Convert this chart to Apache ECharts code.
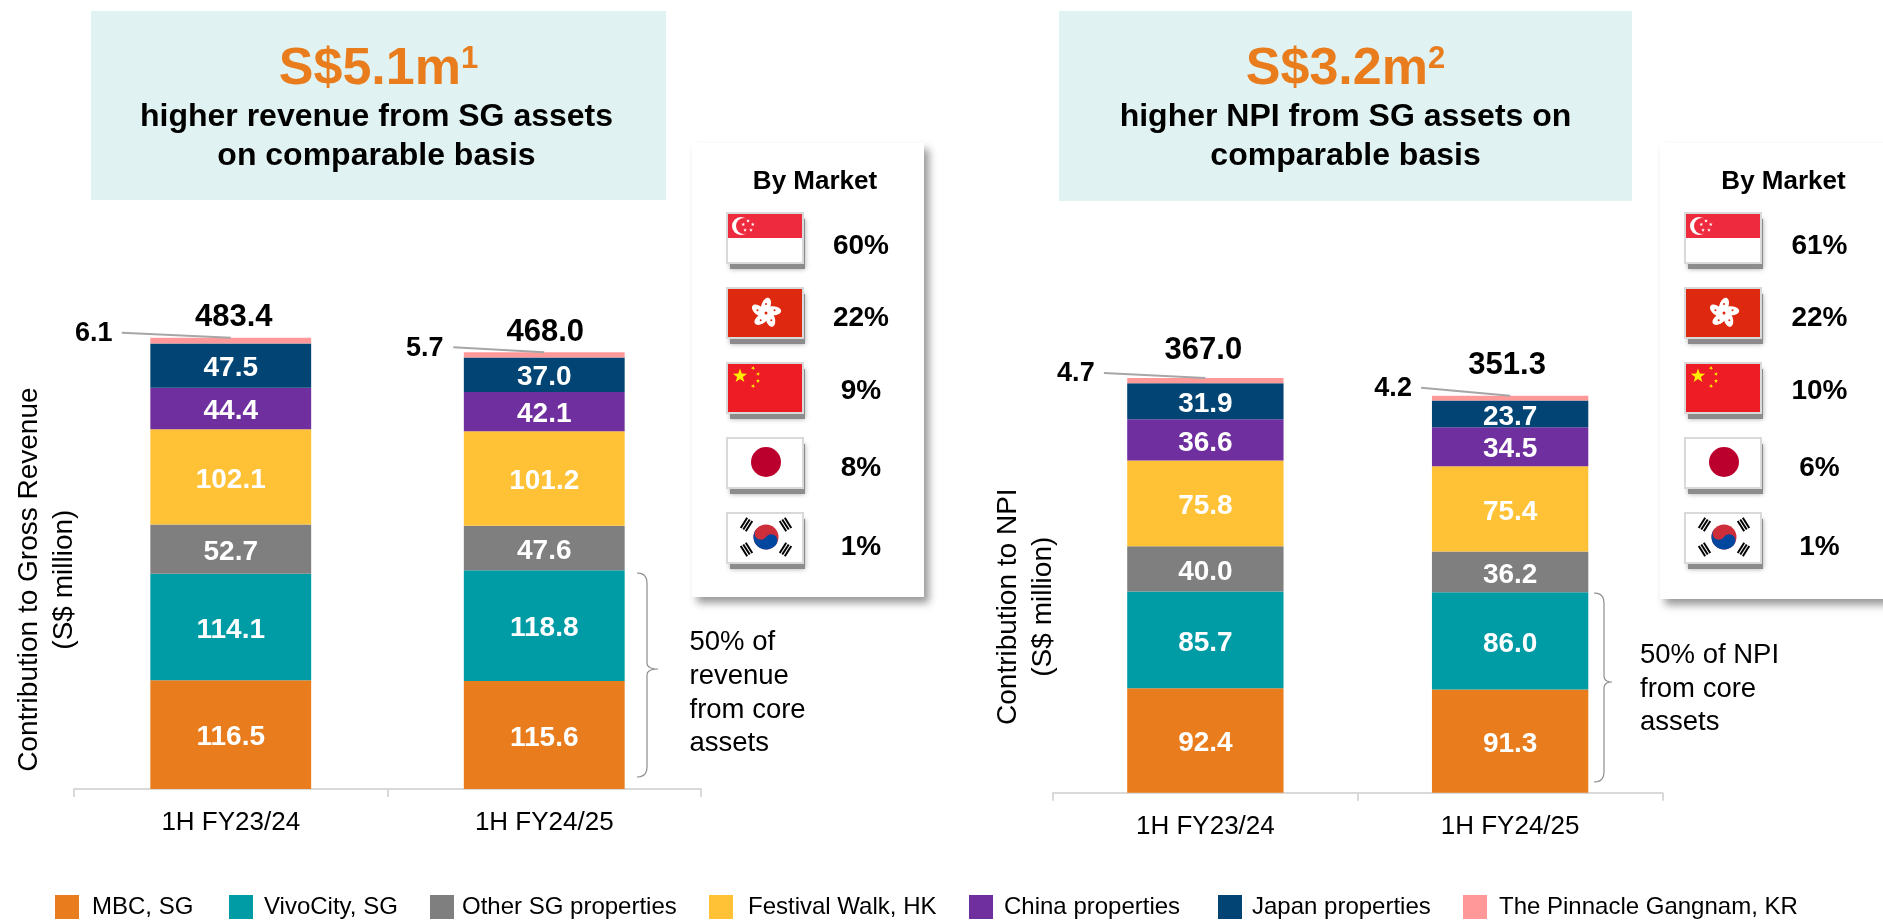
<!DOCTYPE html>
<html>
<head>
<meta charset="utf-8">
<title>Contribution by property</title>
<script src="https://cdn.jsdelivr.net/npm/echarts@6/dist/echarts.min.js"></script>
<style>
  html, body { margin: 0; padding: 0; background: #fff; }
  #chart { width: 1883px; height: 920px; }
</style>
</head>
<body>
<div id="chart"></div>
<script>
// values
const categories = ['1H FY23/24', '1H FY24/25'];
const seriesNames = ['MBC, SG', 'VivoCity, SG', 'Other SG properties', 'Festival Walk, HK', 'China properties', 'Japan properties', 'The Pinnacle Gangnam, KR'];
const seriesColors = ['#E97D1E', '#009CA6', '#7F7F7F', '#FFC236', '#702F9F', '#024575', '#FF9999'];

const revenueMbc = [116.5, 115.6];
const revenueVivo = [114.1, 118.8];
const revenueOther = [52.7, 47.6];
const revenueFestival = [102.1, 101.2];
const revenueChina = [44.4, 42.1];
const revenueJapan = [47.5, 37.0];
const revenuePinnacle = [6.1, 5.7];
const revenueTotals = [483.4, 468.0];

const npiMbc = [92.4, 91.3];
const npiVivo = [85.7, 86.0];
const npiOther = [40.0, 36.2];
const npiFestival = [75.8, 75.4];
const npiChina = [36.6, 34.5];
const npiJapan = [31.9, 23.7];
const npiPinnacle = [4.7, 4.2];
const npiTotals = [367.0, 351.3];

const revenueMarket = ['60%', '22%', '9%', '8%', '1%'];
const npiMarket = ['61%', '22%', '10%', '6%', '1%'];

const FONT = '"Liberation Sans", Arial, sans-serif';
const axisColor = '#D9D9D9';

// where the total and the small pinnacle label sit relative to the top of the bar
const revenueOffsets = [
  { totalX: 3, totalY: -20, smallX: -137, smallY: -4, lineX: -109, lineY: -5 },
  { totalX: 1, totalY: -20, smallX: -119.5, smallY: -4, lineX: -91, lineY: -5 }
];
const npiOffsets = [
  { totalX: -2, totalY: -28, smallX: -129.5, smallY: -4, lineX: -101.5, lineY: -5 },
  { totalX: -3, totalY: -30, smallX: -117, smallY: -7, lineX: -89, lineY: -8 }
];

// legend items are not evenly spaced in the picture, so each gets its own place
const legendLeft = [55, 229, 430, 709, 969, 1218, 1463];
const legendTextGap = [8, 6, 3, 10, 6, 5, 7];

function stackSeries(values, axisIndex) {
  return values.map(function (data, i) {
    return {
      name: seriesNames[i],
      type: 'bar',
      stack: 'stack' + axisIndex,
      xAxisIndex: axisIndex,
      yAxisIndex: axisIndex,
      barWidth: '51.3%',
      data: data,
      itemStyle: { color: seriesColors[i] },
      label: {
        show: i < 6,
        position: 'inside',
        offset: [0, 3],
        color: '#fff',
        fontFamily: FONT,
        fontWeight: 'bold',
        fontSize: 28,
        formatter: function (p) { return p.value.toFixed(1); }
      }
    };
  });
}

function topLabelSeries(totals, small, offsets, axisIndex) {
  return {
    type: 'custom',
    xAxisIndex: axisIndex,
    yAxisIndex: axisIndex,
    silent: true,
    z: 5,
    data: categories.map(function (c, i) { return [i, totals[i], small[i]]; }),
    renderItem: function (params, api) {
      const top = api.coord([api.value(0), api.value(1)]);
      const o = offsets[params.dataIndex];
      return {
        type: 'group',
        children: [
          { type: 'line', shape: { x1: top[0] + o.lineX, y1: top[1] + o.lineY, x2: top[0], y2: top[1] },
            style: { stroke: '#A6A6A6', lineWidth: 2 } },
          { type: 'text', style: { x: top[0] + o.totalX, y: top[1] + o.totalY, text: api.value(1).toFixed(1),
            align: 'center', verticalAlign: 'middle', font: 'bold 31px ' + FONT, fill: '#000' } },
          { type: 'text', style: { x: top[0] + o.smallX, y: top[1] + o.smallY, text: api.value(2).toFixed(1),
            align: 'center', verticalAlign: 'middle', font: 'bold 27px ' + FONT, fill: '#000' } }
        ]
      };
    }
  };
}

function yAxisFor(max, name, nameGap, shift) {
  return {
    type: 'value',
    min: 0,
    max: max,
    axisLine: { show: false },
    axisTick: { show: false },
    axisLabel: { show: false },
    splitLine: { show: false },
    name: name,
    nameLocation: 'middle',
    nameRotate: 90,
    nameGap: nameGap,
    nameTextStyle: { fontFamily: FONT, fontSize: 28, lineHeight: 35, color: '#000', padding: [0, shift, 0, 0] }
  };
}

function xAxisFor(gridIndex) {
  return {
    type: 'category',
    gridIndex: gridIndex,
    data: categories,
    axisLine: { lineStyle: { color: axisColor, width: 2 } },
    axisTick: { show: true, length: 8, lineStyle: { color: axisColor, width: 2 } },
    axisLabel: { fontFamily: FONT, fontSize: 26, color: '#000', margin: 21 }
  };
}

// ---- drawn annotations ----
function text(x, y, str, font, fill, align) {
  return { type: 'text', style: { x: x, y: y, text: str, font: font + ' ' + FONT, fill: fill || '#000', align: align || 'center', verticalAlign: 'middle' } };
}

function headline(box, amount, note, line1, line2, nudge) {
  const cx = box.x + box.w / 2;
  return [
    { type: 'rect', shape: { x: box.x, y: box.y, width: box.w, height: box.h }, style: { fill: '#E0F2F1' } },
    { type: 'text', style: {
      x: cx, y: 70, align: 'center', verticalAlign: 'middle',
      text: '{a|' + amount + '}{b|' + note + '}',
      rich: {
        a: { fontFamily: FONT, fontWeight: 'bold', fontSize: 52, fill: '#E97D1E' },
        b: { fontFamily: FONT, fontWeight: 'bold', fontSize: 31, fill: '#E97D1E', verticalAlign: 'top' }
      }
    } },
    text(cx + nudge, 117, line1, 'bold 32px'),
    text(cx + nudge, 156, line2, 'bold 32px')
  ];
}

function star(cx, cy, r, fill, turn) {
  const pts = [];
  for (let i = 0; i < 10; i++) {
    const a = -Math.PI / 2 + (turn || 0) + i * Math.PI / 5;
    const rr = i % 2 ? r * 0.4 : r;
    pts.push([cx + rr * Math.cos(a), cy + rr * Math.sin(a)]);
  }
  return { type: 'polygon', shape: { points: pts }, style: { fill: fill } };
}

// shadow goes on its own plate so the border does not throw one inwards
function flagBase(x, y, fill) {
  return [
    { type: 'rect', shape: { x: x + 3, y: y + 6, width: 75, height: 50 },
      style: { fill: '#8C8C8C', shadowBlur: 5, shadowColor: 'rgba(0,0,0,0.35)' } },
    { type: 'rect', shape: { x: x - 1, y: y - 1, width: 78, height: 52 }, style: { fill: '#D9D9D9' } },
    { type: 'rect', shape: { x: x + 1, y: y + 1, width: 74, height: 48 }, style: { fill: fill } }
  ];
}

function flagSG(x, y) {
  const out = flagBase(x, y, '#fff').concat([
    { type: 'rect', shape: { x: x + 1, y: y + 1, width: 74, height: 24 }, style: { fill: '#EE2B3E' } },
    { type: 'circle', shape: { cx: x + 14, cy: y + 13, r: 9 }, style: { fill: '#fff' } },
    { type: 'circle', shape: { cx: x + 17, cy: y + 13, r: 8 }, style: { fill: '#EE2B3E' } }]);
  for (let i = 0; i < 5; i++) {
    const a = -Math.PI / 2 + i * 2 * Math.PI / 5;
    out.push(star(x + 21 + 5 * Math.cos(a), y + 13 + 5 * Math.sin(a), 2, '#fff'));
  }
  return out;
}

function flagHK(x, y) {
  const cx = x + 39, cy = y + 25;
  const out = flagBase(x, y, '#DE2910');
  for (let i = 0; i < 5; i++) {
    const deg = i * 72;
    const a = deg * Math.PI / 180;
    const px = cx + 7.5 * Math.sin(a), py = cy - 7.5 * Math.cos(a);
    out.push({ type: 'ellipse', shape: { cx: px, cy: py, rx: 4.5, ry: 8 }, rotation: -a - 0.35, originX: px, originY: py, style: { fill: '#fff' } });
    out.push({ type: 'circle', shape: { cx: cx + 9 * Math.sin(a), cy: cy - 9 * Math.cos(a), r: 1 }, style: { fill: '#DE2910' } });
  }
  out.push({ type: 'circle', shape: { cx: cx, cy: cy, r: 1.5 }, style: { fill: '#DE2910' } });
  return out;
}

function flagCN(x, y) {
  return flagBase(x, y, '#EE1C25').concat([
    star(x + 13, y + 13, 7.5, '#FFEE00'),
    star(x + 26, y + 5, 2.2, '#FFEE00', 0.5),
    star(x + 31, y + 11, 2.2, '#FFEE00', 0.2),
    star(x + 31, y + 18, 2.2, '#FFEE00'),
    star(x + 26, y + 23, 2.2, '#FFEE00', 0.5)]);
}

function flagJP(x, y) {
  return flagBase(x, y, '#fff').concat([
    { type: 'circle', shape: { cx: x + 39, cy: y + 24, r: 15 }, style: { fill: '#BC002D' } }]);
}

function flagKR(x, y) {
  const cx = x + 39, cy = y + 24, r = 12.5, tilt = 33.7 * Math.PI / 180;
  const dx = Math.cos(tilt) * r / 2, dy = Math.sin(tilt) * r / 2;
  const out = flagBase(x, y, '#fff').concat([
    { type: 'circle', shape: { cx: cx, cy: cy, r: r }, style: { fill: '#CD2E3A' } },
    { type: 'sector', shape: { cx: cx, cy: cy, r0: 0, r: r, startAngle: tilt, endAngle: tilt + Math.PI, clockwise: true }, style: { fill: '#0047A0' } },
    { type: 'circle', shape: { cx: cx - dx, cy: cy - dy, r: r / 2 }, style: { fill: '#CD2E3A' } },
    { type: 'circle', shape: { cx: cx + dx, cy: cy + dy, r: r / 2 }, style: { fill: '#0047A0' } }]);
  [[-19.5, -12.5], [19.5, -12.5], [-19.5, 12.5], [19.5, 12.5]].forEach(function (c) {
    const len = Math.sqrt(c[0] * c[0] + c[1] * c[1]);
    const ux = c[0] / len, uy = c[1] / len;
    [-3, 0, 3].forEach(function (k) {
      const mx = cx + c[0] + ux * k, my = cy + c[1] + uy * k;
      out.push({ type: 'line', shape: { x1: mx - uy * 6, y1: my + ux * 6, x2: mx + uy * 6, y2: my - ux * 6 }, style: { stroke: '#000', lineWidth: 2 } });
    });
  });
  return out;
}

function marketPanel(panel, flagX, pctX, titleX, pcts) {
  const rows = [213, 288, 363, 438, 513];
  const pctY = [246, 318, 391, 468, 547];
  let out = [
    { type: 'rect', shape: { x: panel.x, y: panel.y, width: panel.w, height: panel.h },
      style: { fill: '#fff', shadowBlur: 8, shadowOffsetX: 5, shadowOffsetY: 6, shadowColor: 'rgba(0,0,0,0.4)' } },
    text(titleX, 181.5, 'By Market', 'bold 26px')
  ];
  [flagSG, flagHK, flagCN, flagJP, flagKR].forEach(function (draw, i) {
    out = out.concat(draw(flagX, rows[i]));
    out.push(text(pctX, pctY[i], pcts[i], 'bold 28px'));
  });
  return out;
}

function curve(a, c, b) {
  const pts = [];
  for (let t = 0; t <= 1.001; t += 0.2) {
    pts.push([(1 - t) * (1 - t) * a[0] + 2 * t * (1 - t) * c[0] + t * t * b[0],
      (1 - t) * (1 - t) * a[1] + 2 * t * (1 - t) * c[1] + t * t * b[1]]);
  }
  return pts;
}

function brace(x0, x1, xTip, y0, yMid, y1) {
  const points = [].concat(
    curve([x0, y0], [x1, y0], [x1, y0 + 10]),
    curve([x1, yMid - 6], [x1, yMid], [xTip, yMid]),
    curve([xTip, yMid], [x1, yMid], [x1, yMid + 6]),
    curve([x1, y1 - 10], [x1, y1], [x0, y1])
  );
  return { type: 'polyline', shape: { points: points }, style: { fill: 'none', stroke: '#8C8C8C', lineWidth: 1.2 } };
}

function noteLines(x, ys, lines) {
  return lines.map(function (l, i) { return text(x, ys[i], l, '27.5px', '#000', 'left'); });
}

const elements = [].concat(
  headline({ x: 91, y: 11, w: 575, h: 189 }, 'S$5.1m', '1', 'higher revenue from SG assets', 'on comparable basis', -2),
  headline({ x: 1059, y: 11, w: 573, h: 190 }, 'S$3.2m', '2', 'higher NPI from SG assets on', 'comparable basis', 0),
  marketPanel({ x: 692, y: 143, w: 232, h: 454 }, 727, 861, 815, revenueMarket),
  marketPanel({ x: 1660, y: 143, w: 240, h: 456 }, 1685, 1819.5, 1783.5, npiMarket),
  [brace(637, 647, 658, 573, 669, 777), brace(1594, 1604, 1612, 593, 682, 782)],
  noteLines(689.5, [642, 676, 710, 743], ['50% of', 'revenue', 'from core', 'assets']),
  noteLines(1640, [655, 689, 722], ['50% of NPI', 'from core', 'assets'])
);

const chart = echarts.init(document.getElementById('chart'));
chart.setOption({
  animation: false,
  backgroundColor: '#fff',
  textStyle: { fontFamily: FONT },
  legend: seriesNames.map(function (name, i) {
    return {
      data: [name],
      left: legendLeft[i],
      top: 895,
      icon: 'rect',
      itemWidth: 24,
      itemHeight: 24,
      selectedMode: false,
      padding: 0,
      textStyle: { fontFamily: FONT, fontSize: 24, color: '#000', padding: [0, 0, 0, legendTextGap[i]] }
    };
  }),
  grid: [
    { left: 74, width: 627, top: 322.3, height: 466.7 },
    { left: 1053, width: 609.5, top: 340.7, height: 452 }
  ],
  xAxis: [xAxisFor(0), xAxisFor(1)],
  yAxis: [
    yAxisFor(500, 'Contribution to Gross Revenue\n(S$ million)', -8, 48),
    Object.assign(yAxisFor(400, 'Contribution to NPI\n(S$ million)', -8, 80), { gridIndex: 1 })
  ],
  graphic: { elements: elements },
  series: [].concat(
    stackSeries([revenueMbc, revenueVivo, revenueOther, revenueFestival, revenueChina, revenueJapan, revenuePinnacle], 0),
    stackSeries([npiMbc, npiVivo, npiOther, npiFestival, npiChina, npiJapan, npiPinnacle], 1),
    [topLabelSeries(revenueTotals, revenuePinnacle, revenueOffsets, 0),
     topLabelSeries(npiTotals, npiPinnacle, npiOffsets, 1)]
  )
});
</script>
</body>
</html>
